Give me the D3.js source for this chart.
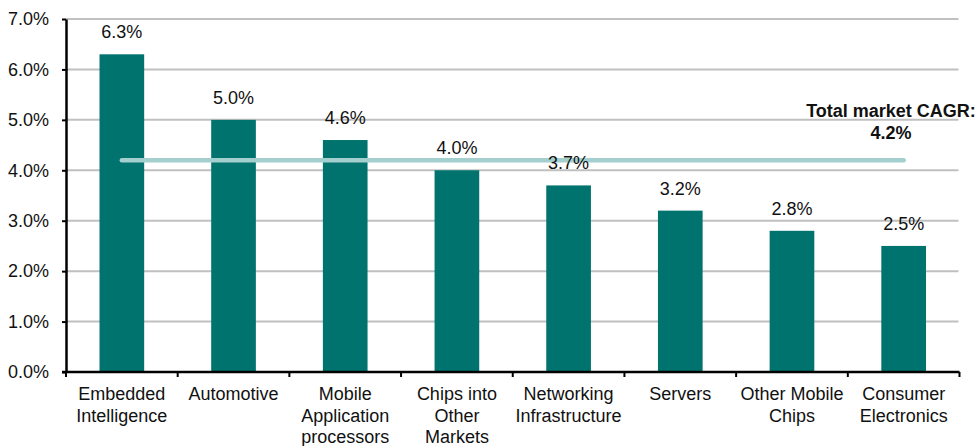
<!DOCTYPE html>
<html>
<head>
<meta charset="utf-8">
<script src="https://cdn.jsdelivr.net/npm/d3@7"></script>
<style>
  html, body { margin: 0; padding: 0; background: #fff; }
  svg { display: block; font-family: "Liberation Sans", Arial, sans-serif; }
</style>
</head>
<body>
<svg id="chart" width="979" height="446"></svg>
<script>
// Segment growth rates (CAGR, %)
const categories = [
  ["Embedded", "Intelligence"],
  ["Automotive"],
  ["Mobile", "Application", "processors"],
  ["Chips into", "Other", "Markets"],
  ["Networking", "Infrastructure"],
  ["Servers"],
  ["Other Mobile", "Chips"],
  ["Consumer", "Electronics"]
];
const values = [6.3, 5.0, 4.6, 4.0, 3.7, 3.2, 2.8, 2.5];
const totalCagr = 4.2;
const yTicks = [0, 1, 2, 3, 4, 5, 6, 7];

const svg = d3.select("#chart");
const x0 = 66, x1 = 959.5;
const yTop = 19, yBot = 372;
const FS = 18;

const x = d3.scaleBand()
  .domain(d3.range(categories.length))
  .range([x0, x1])
  .paddingInner(0.6)
  .paddingOuter(0.3);
const xEdge = d3.scaleBand().domain(d3.range(categories.length)).range([x0, x1]);
const y = d3.scaleLinear().domain([0, 7]).range([yBot, yTop]);

const fmt = v => v.toFixed(1) + "%";

// Horizontal gridlines
svg.append("g")
  .selectAll("line")
  .data(yTicks.filter(t => t > 0))
  .join("line")
  .attr("x1", x0).attr("x2", x1 - 1)
  .attr("y1", d => y(d)).attr("y2", d => y(d))
  .attr("stroke", "#c0c0c0")
  .attr("stroke-width", 2);

// Bars
svg.append("g")
  .selectAll("rect")
  .data(values)
  .join("rect")
  .attr("x", (d, i) => x(i))
  .attr("width", x.bandwidth())
  .attr("y", d => y(d))
  .attr("height", d => y(0) - y(d))
  .attr("fill", "#00736f");

// Total market CAGR reference line
svg.append("line")
  .attr("x1", xEdge(0) + xEdge.bandwidth() / 2)
  .attr("x2", xEdge(categories.length - 1) + xEdge.bandwidth() / 2)
  .attr("y1", y(totalCagr)).attr("y2", y(totalCagr))
  .attr("stroke", "#a3d0cf")
  .attr("stroke-width", 4.5)
  .attr("stroke-linecap", "round");

// Value labels
svg.append("g")
  .selectAll("text")
  .data(values)
  .join("text")
  .attr("x", (d, i) => x(i) + x.bandwidth() / 2)
  .attr("y", d => y(d) - 16)
  .attr("text-anchor", "middle")
  .attr("font-size", FS)
  .attr("fill", "#111")
  .text(fmt);

const note = svg.append("text")
  .attr("text-anchor", "middle")
  .attr("font-size", 18)
  .attr("font-weight", "bold")
  .attr("fill", "#111");
note.append("tspan").attr("x", 891).attr("y", 117).text("Total market CAGR:");
note.append("tspan").attr("x", 891).attr("y", 138.5).text(fmt(totalCagr));

// Y axis
const yAxis = svg.append("g")
  .attr("transform", `translate(${x0},0)`)
  .call(d3.axisLeft(y).tickValues(yTicks).tickFormat(fmt).tickSize(4).tickSizeOuter(0).tickPadding(13));
yAxis.select(".domain").attr("stroke", "#000").attr("stroke-width", 2.5);
yAxis.selectAll(".tick line").attr("stroke", "#000").attr("stroke-width", 2);
yAxis.selectAll(".tick text")
  .attr("font-size", FS)
  .attr("font-family", "'Liberation Sans', Arial, sans-serif")
  .attr("fill", "#111");

// X axis: boundary ticks between categories
const xg = svg.append("g");
xg.append("line")
  .attr("x1", x0 - 4).attr("x2", x1)
  .attr("y1", yBot).attr("y2", yBot)
  .attr("stroke", "#000").attr("stroke-width", 2.5);
xg.selectAll("line.tk")
  .data(d3.range(categories.length + 1))
  .join("line")
  .attr("class", "tk")
  .attr("x1", i => i < categories.length ? xEdge(i) : x1)
  .attr("x2", i => i < categories.length ? xEdge(i) : x1)
  .attr("y1", yBot).attr("y2", yBot + 5)
  .attr("stroke", "#000").attr("stroke-width", 2);

// Category labels (multi-line)
xg.selectAll("text.cat")
  .data(categories)
  .join("text")
  .attr("class", "cat")
  .attr("text-anchor", "middle")
  .attr("font-size", FS)
  .attr("fill", "#111")
  .each(function (lines, i) {
    const cx = xEdge(i) + xEdge.bandwidth() / 2;
    d3.select(this).selectAll("tspan")
      .data(lines)
      .join("tspan")
      .attr("x", cx)
      .attr("y", (l, j) => 400 + j * 21.6)
      .text(l => l);
  });
</script>
</body>
</html>
